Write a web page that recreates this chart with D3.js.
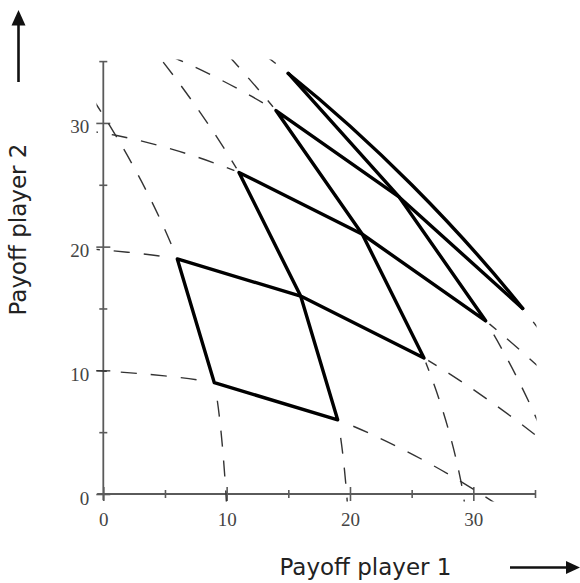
<!DOCTYPE html>
<html>
<head>
<meta charset="utf-8">
<script src="https://cdn.jsdelivr.net/npm/d3@7"></script>
<style>
  html, body { margin: 0; padding: 0; background: #fff; }
  svg { display: block; }
</style>
</head>
<body>
<svg id="chart" width="580" height="583"></svg>
<script>
// crossX[u][v]: payoff of player 1 where curve u of the first family meets
// curve v of the second family. The figure is symmetric about the diagonal,
// so the payoff of player 2 at that crossing is crossX[v][u].
const crossX = [
  [ 0, -1, -4, -9, -16, -25],
  [10,  9,  6,  1,  -6, -15],
  [20, 19, 16, 11,   4,  -5],
  [30, 29, 26, 21,  14,   5],
  [40, 39, 36, 31,  24,  15],
  [50, 49, 46, 41,  34,  25]
];
// curves drawn in each family
const curveLevels = [1, 2, 3, 4, 5];
// lower-left index of the cells outlined in bold
const boldCells = [1, 2, 3, 4];
// axis ticks and labels
const tickValues = [0, 5, 10, 15, 20, 25, 30, 35];
const tickLabels = [0, 10, 20, 30];
const xTitle = "Payoff player 1";
const yTitle = "Payoff player 2";

const svg = d3.select("#chart");
const x = d3.scaleLinear().domain([0, 35]).range([103.3, 535]);
const y = d3.scaleLinear().domain([0, 35]).range([494, 61.1]);

const outerLevel = d3.max(curveLevels);
const node = (u, v) => [crossX[u][v], crossX[v][u]];
const cellCorners = k => [node(k, k), node(k + 1, k), node(k + 1, k + 1), node(k, k + 1)];
const smooth = d3.line()
  .x(d => x(d[0]))
  .y(d => y(d[1]))
  .curve(d3.curveCatmullRom.alpha(0));
const polygon = d3.line()
  .x(d => x(d[0]))
  .y(d => y(d[1]))
  .curve(d3.curveLinearClosed);
const polyline = d3.line()
  .x(d => x(d[0]))
  .y(d => y(d[1]));

// arc length along a path nearest to each of the given points
function lengthsAt(el, pts) {
  const total = el.getTotalLength();
  const samples = [];
  for (let s = 0; s <= total; s += 0.25) {
    const p = el.getPointAtLength(s);
    samples.push([s, p.x, p.y]);
  }
  return pts.map(([u, v]) => {
    const px = x(u), py = y(v);
    let best = 0, bd = Infinity;
    for (const [s, sx, sy] of samples) {
      const d = (sx - px) ** 2 + (sy - py) ** 2;
      if (d < bd) { bd = d; best = s; }
    }
    return best;
  });
}

// the two families of curves through the crossings
const curves = [];
curveLevels.forEach(k => {
  curves.push(d3.range(crossX.length).map(v => node(k, v)));
  curves.push(d3.range(crossX.length).map(u => node(u, k)));
});

const defs = svg.append("defs");
// clip the dashed curves to the frame
defs.append("clipPath").attr("id", "frame")
  .append("rect")
  .attr("x", x(-0.55)).attr("y", y(35.12))
  .attr("width", x(35.12) - x(-0.55))
  .attr("height", y(-0.6) - y(35.12));
// keep the dashed curves from showing beside the bold outlines
const mask = defs.append("mask").attr("id", "offBold")
  .attr("maskUnits", "userSpaceOnUse")
  .attr("x", 0).attr("y", 0).attr("width", 580).attr("height", 583);
mask.append("rect").attr("width", 580).attr("height", 583).attr("fill", "#fff");
mask.selectAll("path").data(boldCells).join("path")
  .attr("d", k => polygon(cellCorners(k)))
  .attr("fill", "none")
  .attr("stroke", "#000")
  .attr("stroke-width", 10)
  .attr("stroke-linejoin", "round");

// axes
const axisColor = "#5a5a5a";
const gx = svg.append("g").attr("transform", `translate(0,${y(0)})`)
  .call(d3.axisBottom(x).tickValues(tickValues).tickSize(0)
    .tickFormat(d => tickLabels.includes(d) ? d : ""));
gx.select(".domain").remove();
gx.selectAll(".tick line")
  .attr("y1", d => tickLabels.includes(d) ? -7 : -4)
  .attr("y2", d => tickLabels.includes(d) ? 7 : 4)
  .attr("stroke", axisColor).attr("stroke-width", 1.6);
gx.selectAll(".tick text")
  .attr("y", 32).attr("dy", null)
  .attr("fill", "#444")
  .style("font-family", "'Liberation Serif', 'Times New Roman', serif")
  .style("font-size", "19px");

const gy = svg.append("g").attr("transform", `translate(${x(0)},0)`)
  .call(d3.axisLeft(y).tickValues(tickValues).tickSize(0)
    .tickFormat(d => tickLabels.includes(d) ? d : ""));
gy.select(".domain").remove();
gy.selectAll(".tick line")
  .attr("x1", d => tickLabels.includes(d) ? -7 : -4)
  .attr("x2", d => tickLabels.includes(d) ? 7 : 4)
  .attr("stroke", axisColor).attr("stroke-width", 1.6);
gy.selectAll(".tick text")
  .attr("x", -14).attr("y", 10).attr("dy", null)
  .attr("fill", "#444")
  .style("font-family", "'Liberation Serif', 'Times New Roman', serif")
  .style("font-size", "19px");

svg.append("line")
  .attr("x1", x(-0.5)).attr("x2", x(35)).attr("y1", y(0)).attr("y2", y(0))
  .attr("stroke", axisColor).attr("stroke-width", 1.8);
svg.append("line")
  .attr("x1", x(0)).attr("x2", x(0)).attr("y1", y(-0.5)).attr("y2", y(35))
  .attr("stroke", axisColor).attr("stroke-width", 1.8);

// dashed curves
svg.append("g").attr("clip-path", "url(#frame)")
  .append("g").attr("mask", "url(#offBold)")
  .selectAll("path").data(curves).join("path")
  .attr("d", smooth)
  .attr("fill", "none")
  .attr("stroke", "#333")
  .attr("stroke-width", 1.4)
  .attr("stroke-dasharray", "16,14");

// bold cells: straight outlines joining the four crossings of each cell;
// the sides lying on the outermost curves follow those curves
const bold = svg.append("g")
  .attr("fill", "none")
  .attr("stroke", "#000")
  .attr("stroke-width", 3.4)
  .attr("stroke-linejoin", "round")
  .attr("stroke-linecap", "round");

boldCells.forEach(k => {
  if (k + 1 < outerLevel) {
    bold.append("path").attr("d", polygon(cellCorners(k)));
    return;
  }
  // inner sides
  bold.append("path").attr("d", polyline([node(k + 1, k), node(k, k), node(k, k + 1)]));
  // outer sides along the outermost curves, through their neighbouring crossings
  const run = [node(k + 1, k - 1), node(k + 1, k), node(k + 1, k + 1), node(k, k + 1), node(k - 1, k + 1)];
  const el = bold.append("path").attr("d", smooth(run));
  const total = el.node().getTotalLength();
  const [l1, l2] = lengthsAt(el.node(), [run[1], run[3]]);
  el.attr("stroke-dasharray", `${l2 - l1} ${total + 20}`)
    .attr("stroke-dashoffset", -l1);
});

// axis titles
svg.append("text")
  .attr("x", 365.5).attr("y", 575)
  .attr("text-anchor", "middle")
  .attr("fill", "#222")
  .style("font-family", "'DejaVu Sans', Verdana, sans-serif")
  .style("font-size", "23px")
  .text(xTitle);
svg.append("text")
  .attr("transform", "translate(25.5,229.5) rotate(-90)")
  .attr("text-anchor", "middle")
  .attr("fill", "#222")
  .style("font-family", "'DejaVu Sans', Verdana, sans-serif")
  .style("font-size", "23px")
  .text(yTitle);

// direction arrows
svg.append("line").attr("x1", 18.5).attr("x2", 18.5).attr("y1", 82).attr("y2", 22)
  .attr("stroke", "#111").attr("stroke-width", 2.6);
svg.append("path").attr("d", "M18.5,10 L11.5,25.5 L25.5,25.5 Z").attr("fill", "#111");
svg.append("line").attr("x1", 510).attr("x2", 568).attr("y1", 567.5).attr("y2", 567.5)
  .attr("stroke", "#111").attr("stroke-width", 2.6);
svg.append("path").attr("d", "M580,567.5 L566,561 L566,574 Z").attr("fill", "#111");
</script>
</body>
</html>
